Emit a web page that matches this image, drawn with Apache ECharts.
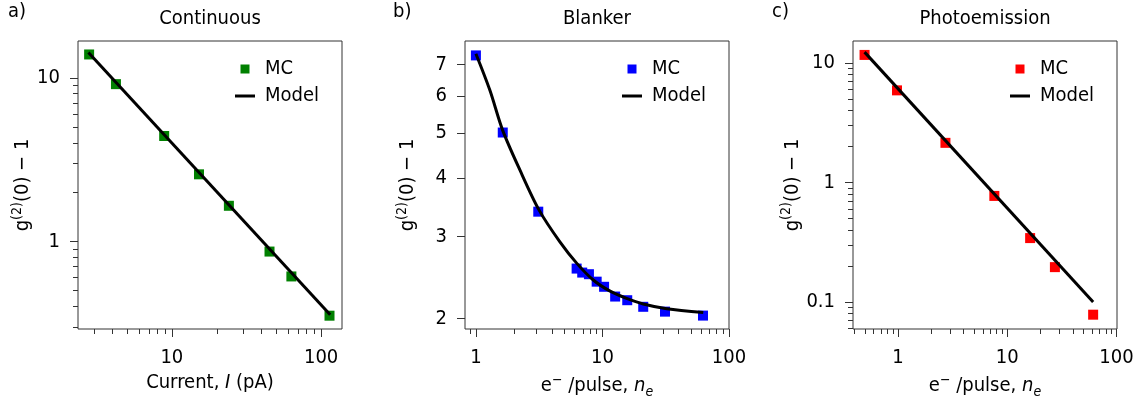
<!DOCTYPE html>
<html><head><meta charset="utf-8">
<script src="https://cdn.jsdelivr.net/npm/echarts@6/dist/echarts.min.js"></script>
<style>html,body{margin:0;padding:0;background:#fff}#c{width:1143px;height:398px}</style>
</head><body><div id="c"></div>
<script>
// ---------- data ----------
// Panel a) Continuous
const currentA = [2.79, 4.22, 8.88, 15.2, 24.1, 45.1, 63.2, 113.8];
const mcA      = [13.9, 9.15, 4.41, 2.57, 1.65, 0.866, 0.61, 0.351];
const modelA_x = [2.76, 115];
const modelA_y = [14.3, 0.356];
// Panel b) Blanker
const neB      = [1.0, 1.63, 3.11, 6.25, 6.92, 7.82, 9.0, 10.3, 12.6, 15.7, 21.0, 31.2, 62.3];
const mcB      = [7.33, 5.01, 3.39, 2.56, 2.51, 2.49, 2.40, 2.34, 2.23, 2.19, 2.12, 2.07, 2.03];
const modelB_x = [1.0, 1.29, 1.625, 2.23, 3.15, 4.61, 6.25, 8.46, 11.5, 15.5, 21.0, 32.2, 62.6];
const modelB_y = [7.39, 6.17, 5.07, 4.16, 3.42, 2.92, 2.63, 2.42, 2.29, 2.21, 2.15, 2.10, 2.06];
// Panel c) Photoemission
const neC      = [0.495, 0.98, 2.72, 7.62, 16.2, 27.3, 61.1];
const mcC      = [11.7, 5.91, 2.15, 0.773, 0.343, 0.196, 0.0784];
const modelC_x = [0.495, 61.1];
const modelC_y = [12.35, 0.1];
// tick values
const ticksAx = [10, 100];
const minorAx = [3,4,5,6,7,8,9,20,30,40,50,60,70,80,90];
const ticksAy = [1, 10];
const minorAy = [0.3,0.4,0.5,0.6,0.7,0.8,0.9,2,3,4,5,6,7,8,9];
const ticksBx = [1, 10, 100];
const minorBx = [0.9,2,3,4,5,6,7,8,9,20,30,40,50,60,70,80,90];
const ticksBy = [2, 3, 4, 5, 6, 7];
const minorBy = [];
const ticksCx = [1, 10, 100];
const minorCx = [0.4,0.5,0.6,0.7,0.8,0.9,2,3,4,5,6,7,8,9,20,30,40,50,60,70,80,90];
const ticksCy = [0.1, 1, 10];
const minorCy = [0.06,0.07,0.08,0.09,0.2,0.3,0.4,0.5,0.6,0.7,0.8,0.9,2,3,4,5,6,7,8,9];
const titles = ['Continuous', 'Blanker', 'Photoemission'];
const tags = ['a)', 'b)', 'c)'];

// ---------- chart ----------
const FONT = "'DejaVu Sans Condensed', 'Open Sans', sans-serif";
const FS = 20;
const zip = (xs, ys) => xs.map((x, i) => [x, ys[i]]);
const fmt = v => String(+(+v).toPrecision(3));

const yName = '{t|g}{s|(2)}{t|(0) − 1}';
const nameRich = {
  t: {fontFamily: FONT, fontSize: FS, color: '#000', lineHeight: 26},
  s: {fontFamily: FONT, fontSize: 14, color: '#000', verticalAlign: 'top', lineHeight: 26},
  i: {fontFamily: FONT, fontSize: FS, color: '#000', fontStyle: 'italic', lineHeight: 26},
  sb: {fontFamily: FONT, fontSize: 14, color: '#000', fontStyle: 'italic', verticalAlign: 'bottom', lineHeight: 26}
};
const xNames = [
  '{t|Current, }{i|I}{t| (pA)}',
  '{t|e}{s|−}{t| /pulse, }{i|n}{sb|e}',
  '{t|e}{s|−}{t| /pulse, }{i|n}{sb|e}'
];

const panels = [
  {left: 78, x: [2.35, 138], y: [0.291, 16.8], tx: ticksAx, mx: minorAx, ty: ticksAy, my: minorAy,
   mc: zip(currentA, mcA), model: zip(modelA_x, modelA_y), color: '#008000', smooth: false,
   yGap: 42, legLeft: 235},
  {left: 465, x: [0.82, 100], y: [1.90, 7.87], tx: ticksBx, mx: minorBx, ty: ticksBy, my: minorBy,
   mc: zip(neB, mcB), model: zip(modelB_x, modelB_y), color: '#0000ff', smooth: 0.3,
   yGap: 44, legLeft: 622},
  {left: 853, x: [0.388, 101], y: [0.0595, 15.3], tx: ticksCx, mx: minorCx, ty: ticksCy, my: minorCy,
   mc: zip(neC, mcC), model: zip(modelC_x, modelC_y), color: '#ff0000', smooth: false,
   yGap: 47, legLeft: 1010}
];

const option = {
  animation: false,
  backgroundColor: '#fff',
  title: [], grid: [], xAxis: [], yAxis: [], series: [], legend: []
};
const TOP = 41, H = 288, W = 264;

panels.forEach((p, i) => {
  const k = 'abc'[i];
  option.grid.push({left: p.left, top: TOP, width: W, height: H, show: true,
    borderColor: '#333', borderWidth: 1, backgroundColor: 'transparent',
    containLabel: false, outerBoundsMode: 'none'});
  const common = {type: 'log', logBase: 10, gridIndex: i, splitLine: {show: false},
    axisLine: {show: false}, minorTick: {show: false}, minorSplitLine: {show: false}};
  // major x
  option.xAxis.push(Object.assign({}, common, {
    position: 'bottom', min: p.x[0], max: p.x[1],
    axisTick: {show: true, length: 8, lineStyle: {color: '#333', width: 1}, customValues: p.tx},
    axisLabel: {show: true, margin: 19, color: '#000', fontFamily: FONT, fontSize: FS,
      customValues: p.tx, formatter: fmt},
    name: xNames[i], nameLocation: 'middle', nameGap: 38,
    nameTextStyle: {fontFamily: FONT, fontSize: FS, color: '#000', rich: nameRich}
  }));
  // minor x
  option.xAxis.push(Object.assign({}, common, {
    position: 'bottom', min: p.x[0], max: p.x[1],
    axisTick: {show: true, length: 5, lineStyle: {color: '#333', width: 1}, customValues: p.mx},
    axisLabel: {show: false}
  }));
  // major y
  option.yAxis.push(Object.assign({}, common, {
    position: 'left', min: p.y[0], max: p.y[1],
    axisTick: {show: true, length: 8, lineStyle: {color: '#333', width: 1}, customValues: p.ty},
    axisLabel: {show: true, margin: 18, color: '#000', fontFamily: FONT, fontSize: FS,
      customValues: p.ty, formatter: fmt},
    name: yName, nameLocation: 'middle', nameRotate: 90, nameGap: p.yGap,
    nameTextStyle: {fontFamily: FONT, fontSize: FS, color: '#000', rich: nameRich}
  }));
  // minor y
  option.yAxis.push(Object.assign({}, common, {
    position: 'left', min: p.y[0], max: p.y[1],
    axisTick: {show: p.my.length > 0, length: 5, lineStyle: {color: '#333', width: 1},
      customValues: p.my.length ? p.my : undefined},
    axisLabel: {show: false}
  }));
  option.series.push({
    name: 'MC-' + k, type: 'scatter', xAxisIndex: 2 * i, yAxisIndex: 2 * i,
    symbol: 'rect', symbolSize: 10, data: p.mc, z: 2,
    itemStyle: {color: p.color, opacity: 1}
  });
  option.series.push({
    name: 'Model-' + k, type: 'line', xAxisIndex: 2 * i, yAxisIndex: 2 * i,
    showSymbol: false, symbol: 'none', smooth: p.smooth, data: p.model, z: 3,
    color: '#000', lineStyle: {color: '#000', width: 3}
  });
  option.legend.push({
    left: p.legLeft, top: 59, orient: 'vertical', padding: 0, itemGap: 7,
    itemWidth: 20, itemHeight: 9, selectedMode: false,
    data: [{name: 'MC-' + k, icon: 'path://M0,0H10V10H0Z'},
           {name: 'Model-' + k, icon: 'path://M0,0H20V3H0Z'}],
    formatter: n => n.split('-')[0],
    textStyle: {fontFamily: FONT, fontSize: FS, color: '#000', padding: [0, 0, 0, 5]}
  });
  option.title.push({text: titles[i], left: p.left + W / 2, top: 9, textAlign: 'center', padding: 0,
    textStyle: {fontFamily: FONT, fontSize: FS, fontWeight: 'normal', color: '#000'}});
  option.title.push({text: tags[i], left: [8, 393, 772][i], top: 2, padding: 0,
    textStyle: {fontFamily: FONT, fontSize: FS, fontWeight: 'normal', color: '#000'}});
});

const chart = echarts.init(document.getElementById('c'), null, {renderer: 'canvas'});
chart.setOption(option);
</script>
</body></html>
